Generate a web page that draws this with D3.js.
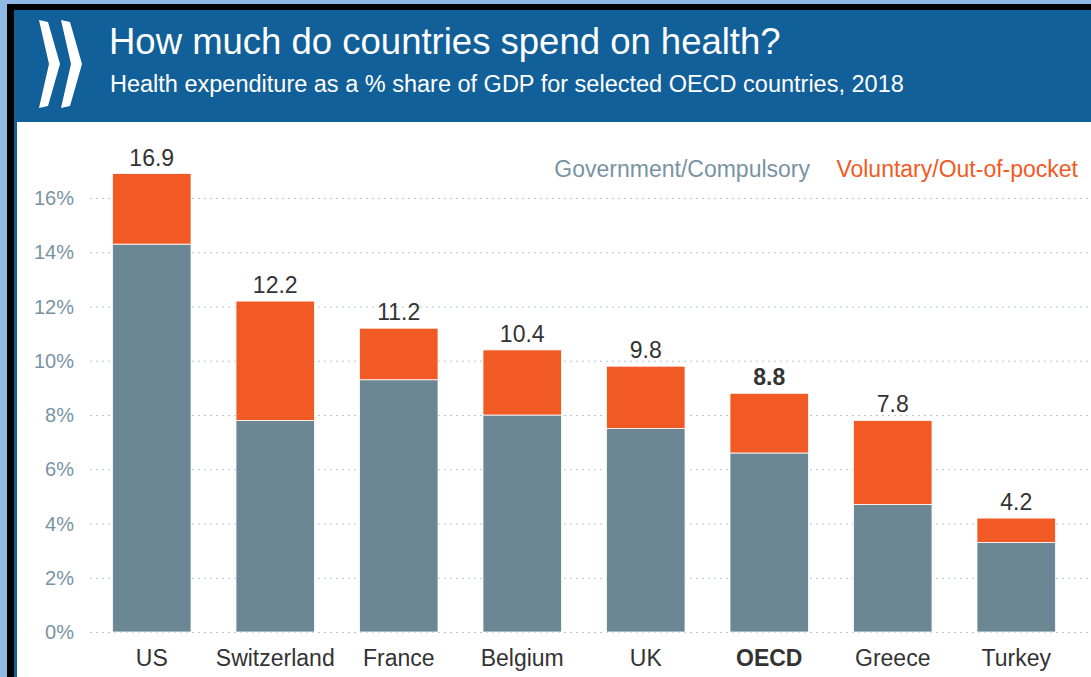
<!DOCTYPE html>
<html>
<head>
<meta charset="utf-8">
<script src="https://cdn.jsdelivr.net/npm/d3@7"></script>
<style>
  body { margin: 0; background: #8fb9e2; }
  svg { display: block; font-family: "Liberation Sans", Arial, sans-serif; }
</style>
</head>
<body>
<svg id="chart" width="1091" height="677"></svg>
<script>
// Health expenditure as % of GDP, 2018
var countries = ["US", "Switzerland", "France", "Belgium", "UK", "OECD", "Greece", "Turkey"];
var government = [14.3, 7.8, 9.3, 8.0, 7.5, 6.6, 4.7, 3.3];
var voluntary = [2.6, 4.4, 1.9, 2.4, 2.3, 2.2, 3.1, 0.9];
var totals = ["16.9", "12.2", "11.2", "10.4", "9.8", "8.8", "7.8", "4.2"];
var yTicks = [0, 2, 4, 6, 8, 10, 12, 14, 16];

var svg = d3.select("#chart");

// frame: black border + blue header + white panel
svg.append("rect").attr("x", 7).attr("y", 4).attr("width", 1084).attr("height", 673).attr("fill", "#000");
svg.append("rect").attr("x", 14).attr("y", 10).attr("width", 1077).attr("height", 667).attr("fill", "#12609a");
svg.append("rect").attr("x", 17).attr("y", 122).attr("width", 1074).attr("height", 555).attr("fill", "#fff");

// logo chevrons
[39, 61].forEach(function(x0) {
  var pts = [[x0, 20], [x0 + 9, 22], [x0 + 21, 64], [x0 + 9, 106], [x0, 108], [x0 + 10, 64]];
  svg.append("polygon").attr("points", pts.map(function(p) { return p.join(","); }).join(" ")).attr("fill", "#fff");
});

svg.append("text").attr("x", 109).attr("y", 54).attr("fill", "#fff")
    .style("font-size", "36.5px").text("How much do countries spend on health?");
svg.append("text").attr("x", 110).attr("y", 92).attr("fill", "#fff")
    .style("font-size", "23.5px").text("Health expenditure as a % share of GDP for selected OECD countries, 2018");

var x = d3.scaleBand()
    .domain(countries)
    .range([90, 1078])
    .paddingInner(0.364)
    .paddingOuter(0.182);

var y = d3.scaleLinear()
    .domain([0, 16])
    .range([632, 198]);

// gridlines
svg.append("g").selectAll("line")
  .data(yTicks)
  .enter().append("line")
    .attr("x1", 90).attr("x2", 1091)
    .attr("y1", function(d) { return y(d) + 0.5; })
    .attr("y2", function(d) { return y(d) + 0.5; })
    .attr("stroke", "#b3c7d3")
    .attr("stroke-width", 1)
    .attr("stroke-dasharray", "2,4");

// y axis labels
svg.append("g").selectAll("text")
  .data(yTicks)
  .enter().append("text")
    .attr("x", 74)
    .attr("y", function(d) { return y(d) + 7; })
    .attr("text-anchor", "end")
    .attr("fill", "#7893a3")
    .style("font-size", "20px")
    .text(function(d) { return d + "%"; });

// bars
var bars = svg.append("g").selectAll("g")
  .data(countries)
  .enter().append("g");

bars.append("rect")
    .attr("x", function(d) { return x(d); })
    .attr("width", x.bandwidth())
    .attr("y", function(d, i) { return y(government[i]); })
    .attr("height", function(d, i) { return y(0) - y(government[i]); })
    .attr("fill", "#6b8794")
    .attr("stroke", "#fff").attr("stroke-width", 0.8);

bars.append("rect")
    .attr("x", function(d) { return x(d); })
    .attr("width", x.bandwidth())
    .attr("y", function(d, i) { return y(government[i] + voluntary[i]); })
    .attr("height", function(d, i) { return y(government[i]) - y(government[i] + voluntary[i]); })
    .attr("fill", "#f15a24")
    .attr("stroke", "#fff").attr("stroke-width", 0.8);

// value labels
bars.append("text")
    .attr("x", function(d) { return x(d) + x.bandwidth() / 2; })
    .attr("y", function(d, i) { return y(government[i] + voluntary[i]) - 8; })
    .attr("text-anchor", "middle")
    .attr("fill", "#333")
    .style("font-size", "23px")
    .style("font-weight", function(d) { return d === "OECD" ? "bold" : "normal"; })
    .text(function(d, i) { return totals[i]; });

// category labels
bars.append("text")
    .attr("x", function(d) { return x(d) + x.bandwidth() / 2; })
    .attr("y", 666)
    .attr("text-anchor", "middle")
    .attr("fill", "#333")
    .style("font-size", "23px")
    .style("font-weight", function(d) { return d === "OECD" ? "bold" : "normal"; })
    .text(function(d) { return d; });

// legend
svg.append("text").attr("x", 810).attr("y", 177).attr("text-anchor", "end")
    .attr("fill", "#7893a3").style("font-size", "23px").text("Government/Compulsory");
svg.append("text").attr("x", 1078).attr("y", 177).attr("text-anchor", "end")
    .attr("fill", "#f15a24").style("font-size", "23px").text("Voluntary/Out-of-pocket");
</script>
</body>
</html>
